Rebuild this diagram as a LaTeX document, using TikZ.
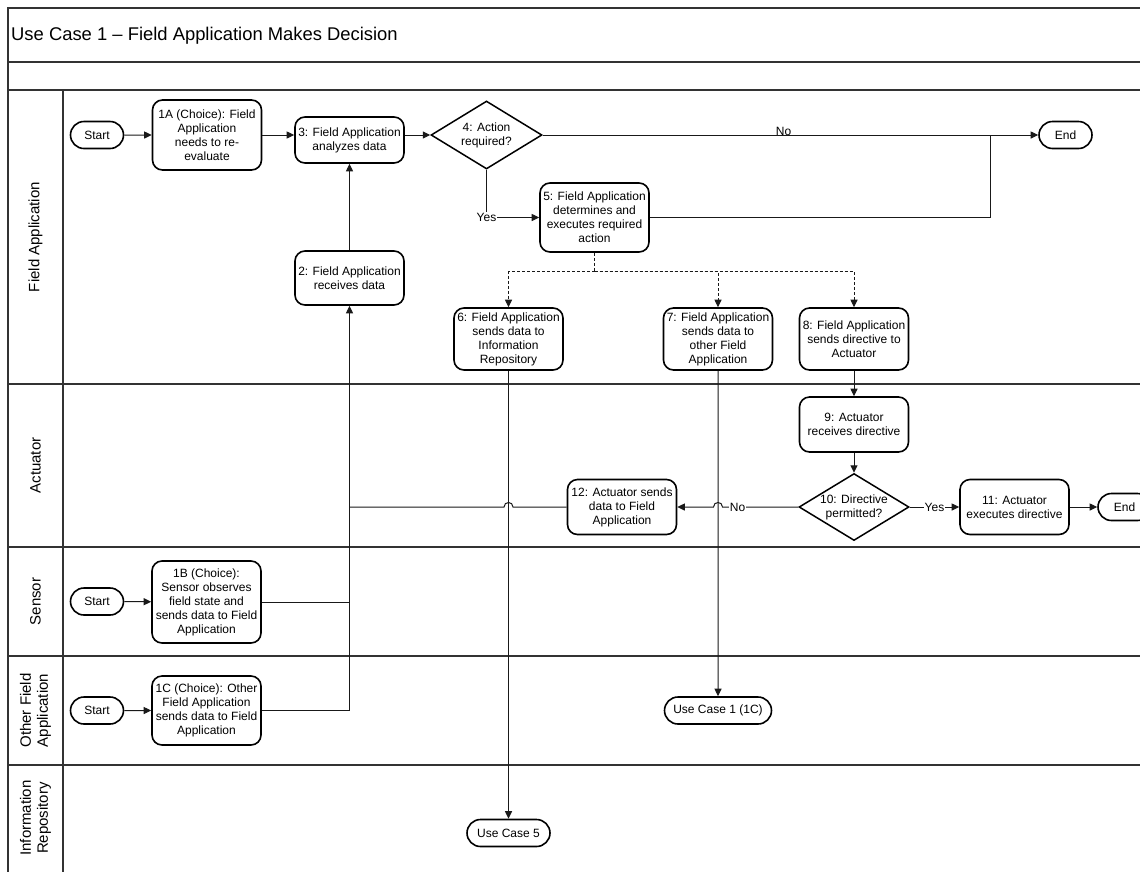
\documentclass[tikz,border=0pt]{standalone}
\usepackage{fontspec}
\setmainfont{Liberation Sans}
\usetikzlibrary{arrows.meta,shapes.geometric,shapes.misc,calc}

\begin{document}
\begin{tikzpicture}[x=1pt,y=-1pt,
  font=\fontsize{12}{14}\selectfont,
  proc/.style={draw=black, line width=1.6pt, rounded corners=10pt, align=center,
               inner sep=1pt, minimum width=109pt},
  term/.style={draw=black, line width=1.6pt, rounded rectangle, minimum width=55pt,
               minimum height=27pt, inner sep=1pt},
  decide/.style={draw=black, line width=1.5pt, diamond, aspect=1.64, inner sep=0pt,
                 align=center, minimum width=110pt, minimum height=67pt},
  flow/.style={line width=1pt, draw=black!90},
  arr/.style={flow, -{Triangle[length=7.5pt,width=7pt]}},
  dflow/.style={arr, dash pattern=on 3pt off 2pt},
  lane/.style={line width=1.4pt, draw=black!80},
  lanelabel/.style={rotate=90, align=center, font=\fontsize{15}{17}\selectfont},
  lbl/.style={fill=white, inner sep=1pt},
]
\useasboundingbox (0,0) rectangle (1140,871);
\clip (0,0) rectangle (1140,871);

% pool frame, title band and swimlanes
\draw[lane] (8,880) -- (8,8) -- (1150,8);
\draw[lane] (8,62) -- (1150,62);
\draw[lane] (8,90) -- (1150,90);
\foreach \yy in {384,547,656,765} \draw[lane] (8,\yy) -- (1150,\yy);
\draw[lane] (63,90) -- (63,880);

\node[anchor=west, inner sep=0pt, font=\fontsize{18.4}{22}\selectfont] (title) at (11,36)
  {Use Case 1 – Field Application Makes Decision};

\node[lanelabel] (lFA)  at (35.5,237)   {Field Application};
\node[lanelabel] (lAct) at (35.5,465.5) {Actuator};
\node[lanelabel] (lSen) at (35.5,601.5) {Sensor};
\node[lanelabel] (lOFA) at (35.5,710.5) {Other Field\\Application};
\node[lanelabel] (lIR)  at (35.5,818)   {Information\\Repository};

% Field Application lane
\node[term] (sA) at (97,135) {Start};
\node[proc, minimum height=70pt] (n1A) at (207,135) {1A (Choice): Field\\Application\\needs to re-\\evaluate};
\node[proc, minimum height=46pt] (n3) at (349.5,140) {3: Field Application\\analyzes data};
\node[proc, minimum height=54pt] (n2) at (349.5,278) {2: Field Application\\receives data};
\node[decide, minimum width=111pt, minimum height=68pt] (n4) at (486.5,135) {4: Action\\required?};
\node[term] (eA) at (1065.5,135) {End};
\node[proc, minimum height=69pt] (n5) at (594.5,217.5) {5: Field Application\\determines and\\executes required\\action};
\node[proc, minimum height=62pt] (n6) at (508.5,339) {6: Field Application\\sends data to\\Information\\Repository};
\node[proc, minimum height=62pt] (n7) at (718,339) {7: Field Application\\sends data to\\other Field\\Application};
\node[proc, minimum height=62pt] (n8) at (854,339) {8: Field Application\\sends directive to\\Actuator};

% Actuator lane
\node[proc, minimum height=55pt] (n9) at (854,424.5) {9: Actuator\\receives directive};
\node[decide] (n10) at (854,507) {10: Directive\\permitted?};
\node[proc, minimum height=55pt] (n11) at (1014.5,507) {11: Actuator\\executes directive};
\node[term] (eB) at (1124.5,507) {End};
\node[proc, minimum height=55pt] (n12) at (622,507) {12: Actuator sends\\data to Field\\Application};

% Sensor and Other Field Application lanes
\node[term] (sB) at (97,601.5) {Start};
\node[proc, minimum height=82pt] (n1B) at (206.5,602) {1B (Choice):\\Sensor observes\\field state and\\sends data to Field\\Application};
\node[term] (sC) at (97,710.5) {Start};
\node[proc, minimum height=69pt] (n1C) at (206.5,710.5) {1C (Choice): Other\\Field Application\\sends data to Field\\Application};
\node[term, minimum width=109pt] (uc1) at (718,710.5) {Use Case 1 (1C)};

% Information Repository lane
\node[term, minimum width=85pt] (uc5) at (508.5,833) {Use Case 5};

% connectors
\draw[arr] (sA) -- (n1A);
\draw[arr] (n1A.east) -- (n1A.east -| n3.west);
\draw[arr] (n4.west -| n3.east) -- (n4.west);
\draw[arr] (n4.east) -- node[pos=0.486, anchor=base, inner sep=0pt] {No} (eA.west);
\coordinate (jEnd) at (990,135);
\draw[flow] (n5.east) -| (jEnd);
\draw[arr] (n4.south) |- node[lbl, pos=0.5] {Yes} (n5.west);
\draw[arr] (n2) -- (n3);

\coordinate (split) at ($(n5.south)+(0,19)$);
\draw[flow, dash pattern=on 3pt off 2pt] (n5.south) -- (split);
\draw[dflow] (split) -| (n6.north);
\draw[dflow] (split) -| (n7.north);
\draw[dflow] (split) -| (n8.north);

\draw[arr] (n8) -- (n9);
\draw[arr] (n9) -- (n10);
\draw[arr] (n10.east) -- node[lbl] {Yes} (n11.west);
\draw[arr] (n11) -- (eB);
\draw[arr] (n10.west) -- node[lbl, pos=0.8] {No} ($(n10.west -| n7.south)+(4.5,0)$)
  .. controls +(0,-6) and +(0,-6) .. ($(n10.west -| n7.south)+(-4.5,0)$) -- (n12.east);
\draw[flow] (n12.west) -- ($(n12.west -| n6.south)+(4.5,0)$)
  .. controls +(0,-6) and +(0,-6) .. ($(n12.west -| n6.south)+(-4.5,0)$) -- (n12.west -| n2.south);

\draw[arr] (sB) -- (n1B);
\draw[arr] (sC) -- (n1C);
\draw[flow] (n1B.east) -- (n1B.east -| n2.south);
\draw[arr] (n1C.east) -| (n2.south);

\draw[arr] (n6) -- (uc5);
\draw[arr] (n7) -- (uc1);
\end{tikzpicture}
\end{document}
